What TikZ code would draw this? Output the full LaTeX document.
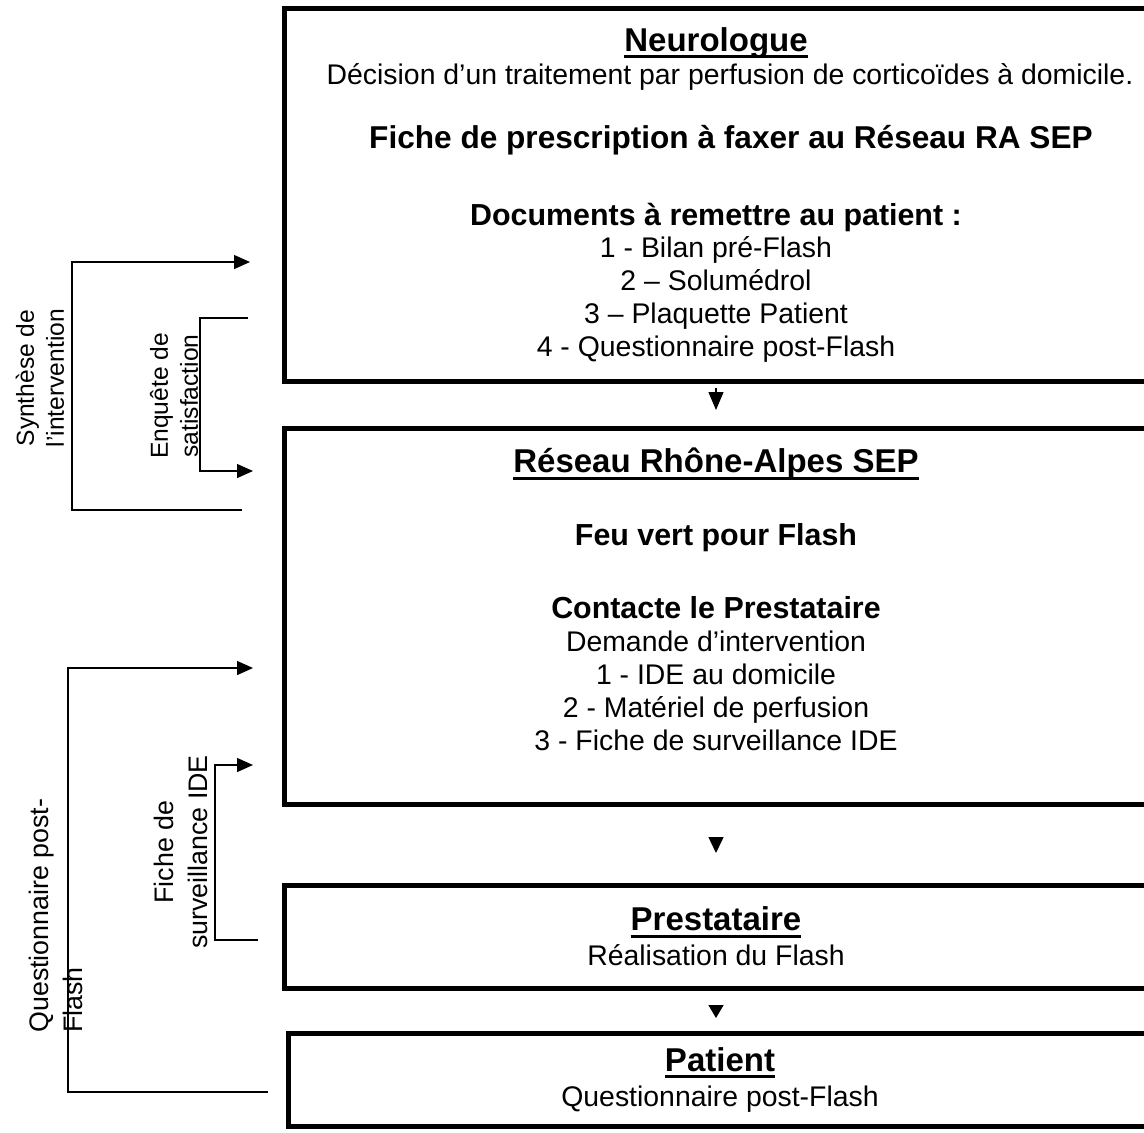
\documentclass[tikz,border=0pt]{standalone}
\usepackage{fontspec}
\setmainfont{Liberation Sans}
\usetikzlibrary{positioning,arrows.meta}
\newsavebox{\titlebox}
\newcommand{\titleline}[1]{\sbox{\titlebox}{#1}\leavevmode\rlap{\rule[-3.4pt]{\wd\titlebox}{1.4pt}}\usebox{\titlebox}}
\newcommand{\bodyfont}{\fontsize{14.2pt}{16.5pt}\selectfont}
\newcommand{\headfont}{\fontsize{15.2pt}{16.5pt}\selectfont\bfseries}
\newcommand{\bigheadfont}{\fontsize{15.8pt}{16.5pt}\selectfont\bfseries}
\newcommand{\titlefont}{\fontsize{16.5pt}{16.5pt}\selectfont\bfseries}
\newcommand{\sidefont}{\fontsize{12.3pt}{15pt}\selectfont}
\newcommand{\sidefontb}{\fontsize{13.4pt}{17pt}\selectfont}
\tikzset{
  flow module/.style={draw, line width=2.5pt, outer sep=0pt, inner sep=0pt, minimum width=432pt, align=center, font=\bodyfont},
  down arrow/.style={line width=0.7pt, -{Triangle[length=#1,width=7.5pt]}},
  flow arrow/.style={line width=0.7pt, -{Triangle[length=8pt,width=7pt]}},
  side label/.style={rotate=90, align=center, inner sep=0pt},
}

\begin{document}
\begin{tikzpicture}[x=0.5pt,y=-0.5pt]
\useasboundingbox (0,0) rectangle (1144,1132);
\clip (0,0) rectangle (1144,1132);
%the nodes
\node [flow module, minimum height=186.5pt] (mN) at (716,194.5) {{\titlefont\titleline{Neurologue}}\\
  \hspace*{14pt}Décision d’un traitement par perfusion de corticoïdes à domicile.\\[15.5pt]
  {\bigheadfont\hspace*{15pt}Fiche de prescription à faxer au Réseau RA SEP}\\[22pt]
  {\headfont Documents à remettre au patient :}\\[-0.5pt]
  1 - Bilan pré-Flash\\
  2 – Solumédrol\\
  3 – Plaquette Patient\\
  4 - Questionnaire post-Flash};
\node [flow module, minimum height=188pt, below=23.5pt of mN] (mR) {{\titlefont\titleline{Réseau Rhône-Alpes SEP}}\\[20pt]
  {\headfont Feu vert pour Flash}\\[20pt]
  {\headfont Contacte le Prestataire}\\
  Demande d’intervention\\
  1 - IDE au domicile\\
  2 - Matériel de perfusion\\
  3 - Fiche de surveillance IDE\\
  \mbox{}};
\node [flow module, minimum height=51.5pt, below=40.5pt of mR] (mP) {{\titlefont\titleline{Prestataire}}\\[1pt]
  Réalisation du Flash};
\node [flow module, minimum height=46.5pt, below=22.5pt of mP, xshift=2pt] (mPa) {{\titlefont\titleline{Patient}}\\[1pt]
  Questionnaire post-Flash};
%the side labels
\node [side label, font=\sidefont] (lSyn) at (40,378) {Synthèse de\\l’intervention};
\node [side label, font=\sidefont] (lEnq) at (174,396) {Enquête de\\satisfaction};
\node [side label, font=\sidefontb, align=left, anchor=west] (lQue) at (56,1033) {Questionnaire post-\\Flash};
\node [side label, font=\sidefontb] (lFic) at (181,852) {Fiche de\\surveillance IDE};
\coordinate (synS) at (242,510);
\coordinate (synT) at (250,262);
\coordinate (enqS) at (248,318);
\coordinate (enqT) at (253,471);
\coordinate (queS) at (268,1092);
\coordinate (queT) at (253,668);
\coordinate (ficS) at (258,940);
\coordinate (ficT) at (253,765);
%drawings of vectors
\draw[down arrow=9pt, shorten <=3.5pt, shorten >=9pt] (mN) -- (mR);
\draw[down arrow=8pt, shorten <=16.5pt, shorten >=16pt] (mR) -- (mP);
\draw[down arrow=6.5pt, shorten <=8.5pt, shorten >=7.5pt] (mP.south) -- (mP.south |- mPa.north);
\draw[flow arrow] (synS) -- ++(-170,0) |- (synT);
\draw[flow arrow] (enqS) -- ++(-48,0) |- (enqT);
\draw[flow arrow] (queS) -- ++(-200,0) |- (queT);
\draw[flow arrow] (ficS) -- ++(-43,0) |- (ficT);
\end{tikzpicture}
\end{document}
